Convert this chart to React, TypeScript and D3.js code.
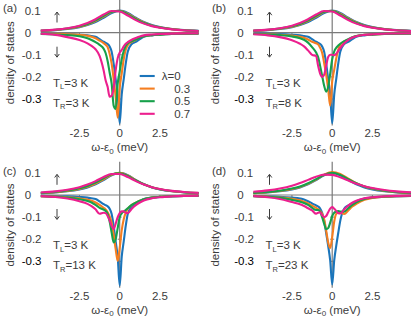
import * as d3 from "d3";

// energy grids (meV)
const X_UP = [-4.9, -4, -3.25, -2.5, -2, -1.5, -1, -0.5, 0, 0.5, 1, 1.5, 2, 2.5, 3.25, 4, 4.9];
const X_DN = [
  -4.9, -4, -3.25, -2.5, -2, -1.75, -1.5, -1.25, -1, -0.875, -0.75, -0.625, -0.5, -0.375, -0.25,
  -0.125, 0, 0.125, 0.25, 0.375, 0.5, 0.75, 1, 1.25, 1.5, 2, 2.5, 3.25, 4, 4.9,
];

const LAMBDAS = ["λ=0", "0.3", "0.5", "0.7"];
const COLORS = ["#1b75bb", "#f57e20", "#16a04a", "#ec1f8e"];
const Y_TICKS = [0.1, 0, -0.1, -0.2, -0.3];
const Y_TICK_LABELS = ["0.1", "0", "-0.1", "-0.2", "-0.3"];
const X_TICKS = [-2.5, 0, 2.5];
const X_TICK_LABELS = ["-2.5", "0", "2.5"];

// spin up, panel (a)
const upA0 = [0.0081, 0.0116, 0.0166, 0.0252, 0.0345, 0.0483, 0.0678, 0.0894, 0.1, 0.0894, 0.0678, 0.0483, 0.0345, 0.0252, 0.0166, 0.0116, 0.0081];
const upA3 = [0.0086, 0.0124, 0.0179, 0.0273, 0.0375, 0.0524, 0.0727, 0.0931, 0.0995, 0.0857, 0.0641, 0.0458, 0.0329, 0.0242, 0.0162, 0.0114, 0.0079];
const upA5 = [0.0089, 0.0131, 0.0189, 0.0289, 0.0398, 0.0557, 0.0765, 0.0955, 0.0985, 0.0826, 0.0611, 0.0437, 0.0315, 0.0234, 0.0157, 0.0111, 0.0078];
const upA7 = [0.0096, 0.0141, 0.0205, 0.0317, 0.0438, 0.061, 0.0821, 0.0983, 0.0962, 0.0779, 0.0571, 0.041, 0.0298, 0.0223, 0.0151, 0.0108, 0.0076];
// spin up, panel (c)
const upC3 = [0.0087, 0.0126, 0.018, 0.0273, 0.0372, 0.0517, 0.0714, 0.0917, 0.0999, 0.0882, 0.0671, 0.0484, 0.0349, 0.0257, 0.0171, 0.0121, 0.0084];
const upC5 = [0.0097, 0.0141, 0.0201, 0.0303, 0.041, 0.0562, 0.0756, 0.0936, 0.0984, 0.0858, 0.0659, 0.0483, 0.0354, 0.0264, 0.0178, 0.0127, 0.0089];
const upC7 = [0.0114, 0.0165, 0.0236, 0.0353, 0.0471, 0.0629, 0.0812, 0.0949, 0.0949, 0.0812, 0.0629, 0.0471, 0.0353, 0.0268, 0.0185, 0.0134, 0.0095];
// spin up, panel (d)
const upD3 = [0.0087, 0.0125, 0.0178, 0.0267, 0.0363, 0.0503, 0.0698, 0.0917, 0.1039, 0.0954, 0.0742, 0.0538, 0.0387, 0.0284, 0.0187, 0.0131, 0.0091];
const upD5 = [0.0096, 0.0138, 0.0195, 0.0291, 0.039, 0.0532, 0.0719, 0.0911, 0.1, 0.0911, 0.0719, 0.0532, 0.039, 0.0291, 0.0195, 0.0138, 0.0096];
const upD7 = [0.0147, 0.021, 0.0293, 0.0421, 0.054, 0.0684, 0.0828, 0.0921, 0.0909, 0.0802, 0.0654, 0.0514, 0.04, 0.0314, 0.0224, 0.0165, 0.012];

// spin down
const dnA0 = [-0.004, -0.0045, -0.006, -0.009, -0.012, -0.015, -0.018, -0.029, -0.041, -0.046, -0.051, -0.062, -0.086, -0.14, -0.21, -0.28, -0.41, -0.28, -0.21, -0.14, -0.086, -0.051, -0.041, -0.029, -0.018, -0.012, -0.009, -0.006, -0.0045, -0.004];
const dnA3 = [-0.005, -0.005, -0.007, -0.01, -0.014, -0.018, -0.025, -0.036, -0.047, -0.055, -0.065, -0.095, -0.14, -0.21, -0.29, -0.385, -0.25, -0.185, -0.12, -0.077, -0.056, -0.042, -0.032, -0.021, -0.016, -0.011, -0.008, -0.0055, -0.004, -0.0035];
const dnA5 = [-0.006, -0.008, -0.011, -0.016, -0.025, -0.033, -0.043, -0.055, -0.072, -0.092, -0.128, -0.18, -0.23, -0.33, -0.345, -0.23, -0.175, -0.12, -0.083, -0.059, -0.048, -0.039, -0.031, -0.023, -0.016, -0.011, -0.0085, -0.006, -0.0045, -0.0035];
const dnA7 = [-0.005, -0.01, -0.02, -0.033, -0.048, -0.06, -0.075, -0.105, -0.17, -0.215, -0.245, -0.29, -0.285, -0.25, -0.17, -0.115, -0.09, -0.078, -0.062, -0.05, -0.043, -0.032, -0.024, -0.017, -0.012, -0.008, -0.006, -0.004, -0.003, -0.0025];

const dnB3 = [-0.005, -0.007, -0.009, -0.013, -0.018, -0.023, -0.031, -0.041, -0.048, -0.053, -0.068, -0.091, -0.137, -0.19, -0.255, -0.33, -0.22, -0.168, -0.117, -0.077, -0.055, -0.039, -0.031, -0.022, -0.015, -0.01, -0.0077, -0.0055, -0.004, -0.0032];
const dnB5 = [-0.006, -0.008, -0.011, -0.017, -0.025, -0.032, -0.045, -0.065, -0.09, -0.11, -0.15, -0.195, -0.24, -0.267, -0.245, -0.185, -0.12, -0.085, -0.068, -0.058, -0.05, -0.038, -0.029, -0.021, -0.015, -0.01, -0.0075, -0.0055, -0.004, -0.003];
const dnB7 = [-0.007, -0.012, -0.02, -0.034, -0.05, -0.062, -0.08, -0.1, -0.105, -0.15, -0.185, -0.2, -0.19, -0.15, -0.11, -0.1, -0.1, -0.102, -0.095, -0.083, -0.07, -0.048, -0.032, -0.022, -0.016, -0.01, -0.007, -0.0045, -0.0035, -0.0025];

const dnC3 = [-0.005, -0.007, -0.01, -0.015, -0.021, -0.026, -0.034, -0.045, -0.058, -0.065, -0.078, -0.097, -0.125, -0.18, -0.245, -0.298, -0.24, -0.16, -0.11, -0.08, -0.062, -0.045, -0.035, -0.026, -0.019, -0.012, -0.008, -0.0055, -0.004, -0.003];
const dnC5 = [-0.005, -0.008, -0.012, -0.019, -0.027, -0.034, -0.045, -0.058, -0.066, -0.072, -0.085, -0.12, -0.17, -0.215, -0.2, -0.15, -0.1, -0.083, -0.075, -0.068, -0.06, -0.045, -0.035, -0.026, -0.019, -0.012, -0.008, -0.0055, -0.004, -0.003];
const dnC7 = [-0.005, -0.009, -0.016, -0.028, -0.04, -0.05, -0.065, -0.085, -0.08, -0.082, -0.095, -0.115, -0.14, -0.155, -0.13, -0.1, -0.082, -0.074, -0.074, -0.08, -0.082, -0.062, -0.046, -0.034, -0.025, -0.015, -0.01, -0.006, -0.004, -0.003];

const dnD0 = [-0.0045, -0.006, -0.008, -0.012, -0.016, -0.02, -0.028, -0.038, -0.047, -0.052, -0.061, -0.081, -0.117, -0.172, -0.23, -0.296, -0.405, -0.296, -0.23, -0.172, -0.117, -0.061, -0.047, -0.038, -0.028, -0.016, -0.012, -0.008, -0.006, -0.0045];
const dnD3 = [-0.004, -0.007, -0.011, -0.017, -0.024, -0.03, -0.038, -0.048, -0.058, -0.064, -0.072, -0.085, -0.11, -0.16, -0.215, -0.24, -0.19, -0.12, -0.085, -0.079, -0.08, -0.086, -0.07, -0.052, -0.04, -0.022, -0.013, -0.008, -0.005, -0.004];
const dnD5 = [-0.005, -0.008, -0.013, -0.022, -0.03, -0.036, -0.045, -0.058, -0.068, -0.068, -0.075, -0.1, -0.13, -0.155, -0.15, -0.125, -0.095, -0.08, -0.075, -0.073, -0.075, -0.075, -0.06, -0.045, -0.033, -0.018, -0.011, -0.007, -0.0045, -0.0035];
const dnD7 = [-0.005, -0.01, -0.018, -0.032, -0.042, -0.05, -0.06, -0.07, -0.085, -0.08, -0.078, -0.092, -0.1, -0.095, -0.078, -0.062, -0.055, -0.062, -0.072, -0.082, -0.083, -0.065, -0.048, -0.035, -0.026, -0.015, -0.01, -0.006, -0.004, -0.003];

const FONT = "'Liberation Sans', Arial, sans-serif";
const GREY = "#7a7a7a";
const TXT = "#3c3c3c";

const panels = [
  { label: "(a)", ox: 119.7, oy: 32.7, lx: 3, yl: 10, tr: "3", up: [upA0, upA3, upA5, upA7], dn: [dnA0, dnA3, dnA5, dnA7], legend: true },
  { label: "(b)", ox: 332.2, oy: 32.7, lx: 212, yl: 215, tr: "8", up: [upA0, upA3, upA5, upA7], dn: [dnA0, dnB3, dnB5, dnB7], legend: false },
  { label: "(c)", ox: 119.7, oy: 195, lx: 3, yl: 10, tr: "13", up: [upA0, upC3, upC5, upC7], dn: [dnA0, dnC3, dnC5, dnC7], legend: false },
  { label: "(d)", ox: 332.2, oy: 195, lx: 212, yl: 215, tr: "23", up: [upA0, upD3, upD5, upD7], dn: [dnD0, dnD3, dnD5, dnD7], legend: false },
];

type PanelProps = (typeof panels)[number];

// small spin arrow: tip at (cx, tipY), tail length 10.5
function SpinArrow({ cx, tipY, dir }: { cx: number; tipY: number; dir: 1 | -1 }) {
  const tail = tipY + dir * 10.5;
  const hy = tipY + dir * 3.2;
  return (
    <g stroke={TXT} strokeWidth={1} fill="none">
      <line x1={cx} x2={cx} y1={tipY + dir * 0.5} y2={tail} />
      <polyline points={`${cx - 2.3},${hy} ${cx},${tipY} ${cx + 2.3},${hy}`} />
    </g>
  );
}

function Panel({ label, ox, oy, lx, yl, tr, up, dn, legend }: PanelProps) {
  const x = d3.scaleLinear().domain([-5, 5]).range([ox - 80.5, ox + 80.5]);
  const y = d3.scaleLinear().domain([-0.4, 0.1]).range([oy + 88.4, oy - 22.1]);

  const lineUp = d3
    .line<number>()
    .x((_, i) => x(X_UP[i]))
    .y((d) => y(d))
    .curve(d3.curveMonotoneX);
  const lineDn = d3
    .line<number>()
    .x((_, i) => x(X_DN[i]))
    .y((d) => y(d))
    .curve(d3.curveMonotoneX);

  return (
    <g fontFamily={FONT} fontSize={11.5} fill={TXT}>
      <text x={lx} y={oy - 20.5}>{label}</text>
      <text transform={`translate(${yl + 4},${oy + 30}) rotate(-90)`} textAnchor="middle">
        density of states
      </text>

      {/* axes */}
      <line x1={x(-4.9)} x2={x(4.9)} y1={y(0)} y2={y(0)} stroke={GREY} strokeWidth={1.2} />
      <line x1={x(0)} x2={x(0)} y1={y(0.15)} y2={y(-0.42)} stroke={GREY} strokeWidth={1.2} />
      {Y_TICKS.filter((t) => t !== 0).map((t) => (
        <line key={t} x1={x(0) - 2} x2={x(0) + 2} y1={y(t)} y2={y(t)} stroke={GREY} strokeWidth={1} />
      ))}
      {X_TICKS.filter((t) => t !== 0).map((t) => (
        <line key={t} x1={x(t)} x2={x(t)} y1={y(0)} y2={y(0) + 3} stroke={GREY} strokeWidth={1} />
      ))}

      {Y_TICKS.map((t, i) => (
        <text
          key={t}
          x={ox - (t < 0 ? 98 : 95)}
          y={y(t) + 4}
          fill={t === -0.3 ? "#000" : TXT}
        >
          {Y_TICK_LABELS[i]}
        </text>
      ))}
      {X_TICKS.map((t, i) => (
        <text key={t} x={x(t)} y={oy + 104.5} textAnchor="middle">
          {X_TICK_LABELS[i]}
        </text>
      ))}
      <text x={ox} y={oy + 118.5} textAnchor="middle">
        ω-ε<tspan fontSize={8} dy={2.5}>0</tspan>
        <tspan dy={-2.5}> (meV)</tspan>
      </text>

      <SpinArrow cx={ox - 62.7} tipY={oy - 20.7} dir={1} />
      <SpinArrow cx={ox - 62.7} tipY={oy + 24.5} dir={-1} />

      <text x={ox - 66.7} y={oy + 54}>
        T<tspan fontSize={7.5} dy={2.5}>L</tspan>
        <tspan dy={-2.5}>=3 K</tspan>
      </text>
      <text x={ox - 66.7} y={oy + 74}>
        T<tspan fontSize={7.5} dy={2.5}>R</tspan>
        <tspan dy={-2.5}>={tr} K</tspan>
      </text>

      {/* curves */}
      {up.map((s, i) => (
        <path key={"u" + i} d={lineUp(s) ?? ""} fill="none" stroke={COLORS[i]} strokeWidth={2.1} />
      ))}
      {dn.map((s, i) => (
        <path key={"d" + i} d={lineDn(s) ?? ""} fill="none" stroke={COLORS[i]} strokeWidth={2.1} />
      ))}

      {legend &&
        LAMBDAS.map((l, i) => (
          <g key={l}>
            <line
              x1={ox + 20}
              x2={ox + 35}
              y1={oy + 43.3 + i * 12.6}
              y2={oy + 43.3 + i * 12.6}
              stroke={COLORS[i]}
              strokeWidth={2.1}
            />
            <text
              x={i === 0 ? ox + 42 : ox + 70.5}
              y={oy + 43.3 + i * 12.6 + 4}
              textAnchor={i === 0 ? "start" : "end"}
            >
              {l}
            </text>
          </g>
        ))}
    </g>
  );
}

export default function App() {
  return (
    <div style={{ position: "absolute", left: 0, top: 0 }}>
      <svg width={411} height={318} style={{ display: "block", background: "#fff" }}>
        {panels.map((p) => (
          <Panel key={p.label} {...p} />
        ))}
      </svg>
    </div>
  );
}
